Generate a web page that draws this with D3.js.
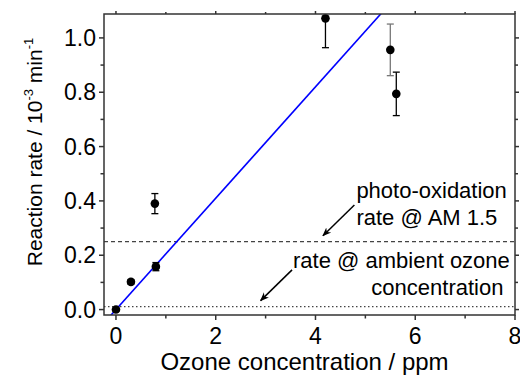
<!DOCTYPE html>
<html><head><meta charset="utf-8">
<script src="https://cdn.jsdelivr.net/npm/d3@7"></script>
<style>body{margin:0;background:#fff}svg{display:block}text{font-family:Arial,"Liberation Sans",sans-serif;fill:#000}</style>
</head><body>
<svg id="c" width="520" height="376"></svg>
<script>
const ozone = [0, 0.3, 0.78, 0.8, 4.2, 5.5, 5.62];
const rate = [0, 0.102, 0.39, 0.158, 1.072, 0.956, 0.794];
const rateErr = [0.005, 0.008, 0.037, 0.015, 0.108, 0.095, 0.08];
const errColor = ["#000","#000","#000","#000","#000","#777","#000"];
const fitSlope = 0.205, fitIntercept = 0;
const photoRate = 0.25, ambientRate = 0.011;
const xTicks = [0, 2, 4, 6, 8], xMinor = [1, 3, 5, 7];
const yTicks = [0, 0.2, 0.4, 0.6, 0.8, 1.0], yMinor = [0.1, 0.3, 0.5, 0.7, 0.9];

const svg = d3.select("#c");
const L = 104, R = 515, T = 14, B = 315;
const x = d3.scaleLinear().domain([-0.24, 8]).range([L, R]);
const y = d3.scaleLinear().domain([-0.02, 1.088]).range([B, T]);
const axisColor = "#333";

svg.append("defs").append("clipPath").attr("id","clip")
  .append("rect").attr("x",L).attr("y",T).attr("width",R-L).attr("height",B-T);
const defs = svg.select("defs");
defs.append("marker").attr("id","ah").attr("viewBox","0 0 10 10").attr("refX",9).attr("refY",5)
  .attr("markerWidth",9).attr("markerHeight",9).attr("markerUnits","userSpaceOnUse").attr("orient","auto")
  .append("path").attr("d","M0,1 L10,5 L0,9 L3,5 Z").attr("fill","#000");

const plot = svg.append("g").attr("clip-path","url(#clip)");
plot.append("line").attr("x1",L).attr("x2",R).attr("y1",y(photoRate)).attr("y2",y(photoRate))
  .attr("stroke","#444").attr("stroke-width",1.2).attr("stroke-dasharray","4,3");
plot.append("line").attr("x1",L).attr("x2",R).attr("y1",y(ambientRate)).attr("y2",y(ambientRate))
  .attr("stroke","#444").attr("stroke-width",1.2).attr("stroke-dasharray","1.5,2.5");
const fx = [-0.24, 8];
plot.append("line").attr("x1",x(fx[0])).attr("y1",y(fitIntercept+fitSlope*fx[0]))
  .attr("x2",x(fx[1])).attr("y2",y(fitIntercept+fitSlope*fx[1]))
  .attr("stroke","#0000ff").attr("stroke-width",1.6);
const pts = ozone.map((d,i)=>({x:d,y:rate[i],e:rateErr[i],c:errColor[i]}));
const eb = plot.selectAll("g.eb").data(pts).join("g").attr("stroke",d=>d.c).attr("stroke-width",1.3);
eb.append("line").attr("x1",d=>x(d.x)).attr("x2",d=>x(d.x)).attr("y1",d=>y(d.y-d.e)).attr("y2",d=>y(d.y+d.e));
eb.append("line").attr("x1",d=>x(d.x)-3.5).attr("x2",d=>x(d.x)+3.5).attr("y1",d=>y(d.y-d.e)).attr("y2",d=>y(d.y-d.e));
eb.append("line").attr("x1",d=>x(d.x)-3.5).attr("x2",d=>x(d.x)+3.5).attr("y1",d=>y(d.y+d.e)).attr("y2",d=>y(d.y+d.e));
plot.selectAll("circle").data(pts).join("circle").attr("cx",d=>x(d.x)).attr("cy",d=>y(d.y)).attr("r",4.3).attr("fill","#000");

function tickLines(g, vals, len, orient){
  vals.forEach(v=>{
    if(orient==="b") g.append("line").attr("x1",x(v)).attr("x2",x(v)).attr("y1",B).attr("y2",B+len);
    if(orient==="t") g.append("line").attr("x1",x(v)).attr("x2",x(v)).attr("y1",T).attr("y2",T-len);
    if(orient==="l") g.append("line").attr("y1",y(v)).attr("y2",y(v)).attr("x1",L).attr("x2",L-len);
    if(orient==="r") g.append("line").attr("y1",y(v)).attr("y2",y(v)).attr("x1",R).attr("x2",R+len);
  });
}
const ax = svg.append("g").attr("stroke",axisColor).attr("stroke-width",1.5);
ax.append("rect").attr("x",L).attr("y",T).attr("width",R-L).attr("height",B-T).attr("fill","none");
tickLines(ax, xTicks, 5, "b"); tickLines(ax, xMinor, 3.5, "b");
tickLines(ax, xTicks, 3, "t"); tickLines(ax, xMinor, 2, "t");
tickLines(ax, yTicks, 5, "l"); tickLines(ax, yMinor, 3.5, "l");
tickLines(ax, yTicks, 4, "r"); tickLines(ax, yMinor, 3, "r");

svg.append("g").selectAll("text").data(xTicks).join("text")
  .attr("x",d=>x(d)).attr("y",344).attr("text-anchor","middle").attr("font-size",23).text(d=>d);
svg.append("g").selectAll("text").data(yTicks).join("text")
  .attr("x",96).attr("y",d=>y(d)+8).attr("text-anchor","end").attr("font-size",23).text(d=>d.toFixed(1));

svg.append("text").attr("x",304.5).attr("y",370).attr("text-anchor","middle").attr("font-size",24)
  .text("Ozone concentration / ppm");
const yt = svg.append("text").attr("transform","translate(42,152) rotate(-90)").attr("text-anchor","middle").attr("font-size",21);
yt.append("tspan").text("Reaction rate / 10");
yt.append("tspan").attr("font-size",13).attr("dy",-9).text("-3");
yt.append("tspan").attr("dy",9).text(" min");
yt.append("tspan").attr("font-size",13).attr("dy",-9).text("-1");

const notes = [
  {t:"photo-oxidation", x:4.82, y:0.411},
  {t:"rate @ AM 1.5", x:4.82, y:0.311},
  {t:"rate @ ambient ozone", x:3.55, y:0.152},
  {t:"concentration", x:5.12, y:0.054}
];
svg.append("g").selectAll("text").data(notes).join("text")
  .attr("x",d=>x(d.x)).attr("y",d=>y(d.y)).attr("font-size",22).text(d=>d.t);
const arrows = [
  {x1:4.78, y1:0.385, x2:4.15, y2:0.272},
  {x1:3.53, y1:0.146, x2:2.9, y2:0.033}
];
svg.append("g").selectAll("line").data(arrows).join("line")
  .attr("x1",d=>x(d.x1)).attr("y1",d=>y(d.y1)).attr("x2",d=>x(d.x2)).attr("y2",d=>y(d.y2))
  .attr("stroke","#000").attr("stroke-width",1.5).attr("marker-end","url(#ah)");
</script>
</body></html>
